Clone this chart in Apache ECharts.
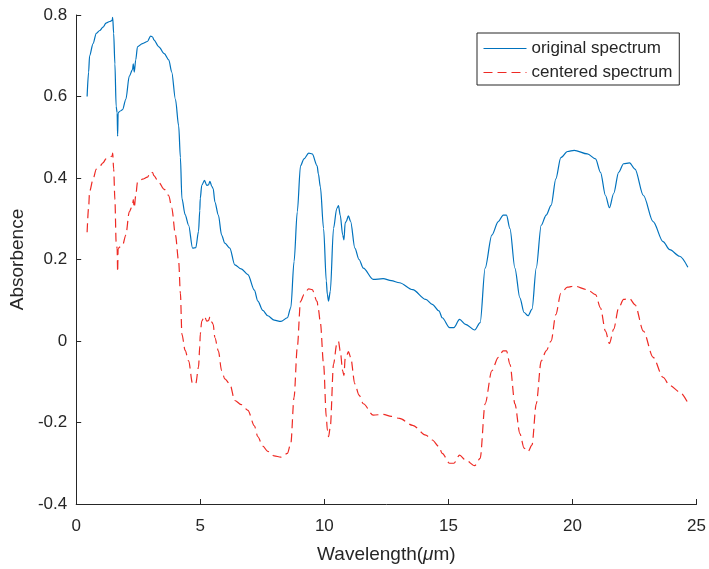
<!DOCTYPE html>
<html>
<head>
<meta charset="utf-8">
<title>spectrum</title>
<script src="https://cdn.jsdelivr.net/npm/echarts@6/dist/echarts.min.js"></script>
<style>
  html, body { margin: 0; padding: 0; background: #fff; }
  #chart { width: 709px; height: 569px; }
</style>
</head>
<body>
<div id="chart"></div>
<script>
// wavelength in um
var wavelength = [
  0.44, 0.50, 0.54, 0.68, 0.81, 0.95, 1.08, 1.20, 1.35, 1.45,
  1.47, 1.51, 1.56, 1.61, 1.65, 1.67, 1.69, 1.71, 1.80, 1.87,
  2.00, 2.14, 2.27, 2.30, 2.34, 2.40, 2.47, 2.67, 2.87, 3.00,
  3.08, 3.13, 3.33, 3.55, 3.73, 3.85, 4.00, 4.13, 4.20, 4.26,
  4.39, 4.53, 4.69, 4.82, 4.93, 4.98, 5.00, 5.06, 5.17, 5.26,
  5.33, 5.39, 5.46, 5.52, 5.59, 5.73, 5.86, 5.99, 6.19, 6.39,
  6.65, 6.92, 7.18, 7.32, 7.52, 7.72, 7.98, 8.25, 8.51, 8.65,
  8.78, 8.91, 9.04, 9.18, 9.37, 9.51, 9.71, 9.76, 9.84, 9.97,
  10.08, 10.12, 10.17, 10.24, 10.37, 10.50, 10.57, 10.64, 10.74, 10.79,
  10.84, 10.88, 10.97, 11.06, 11.23, 11.40, 11.57, 11.97, 12.37, 12.70,
  13.03, 13.56, 14.09, 14.35, 14.62, 14.75, 15.05, 15.22, 15.45, 15.69,
  16.06, 16.28, 16.48, 16.75, 17.01, 17.21, 17.34, 17.48, 17.68, 17.88,
  18.05, 18.21, 18.37, 18.54, 18.74, 18.94, 19.14, 19.33, 19.53, 19.80,
  20.07, 20.60, 20.93, 21.13, 21.33, 21.49, 21.66, 21.86, 22.06, 22.30,
  22.52, 22.86, 23.25, 23.65, 23.92, 24.32, 24.65
];

var original = [
  0.600, 0.660, 0.700, 0.730, 0.755, 0.762, 0.770, 0.780, 0.784, 0.787,
  0.794, 0.755, 0.680, 0.576, 0.560, 0.503, 0.560, 0.561, 0.565, 0.568,
  0.593, 0.650, 0.666, 0.680, 0.660, 0.690, 0.722, 0.730, 0.735, 0.748,
  0.746, 0.739, 0.722, 0.705, 0.690, 0.660, 0.593, 0.528, 0.450, 0.350,
  0.310, 0.284, 0.228, 0.229, 0.269, 0.320, 0.350, 0.382, 0.394, 0.382,
  0.383, 0.392, 0.380, 0.374, 0.341, 0.309, 0.260, 0.240, 0.228, 0.187,
  0.177, 0.163, 0.125, 0.098, 0.075, 0.062, 0.051, 0.048, 0.057, 0.082,
  0.195, 0.317, 0.430, 0.447, 0.461, 0.459, 0.430, 0.410, 0.378, 0.276,
  0.147, 0.115, 0.098, 0.122, 0.276, 0.325, 0.332, 0.309, 0.260, 0.248,
  0.290, 0.293, 0.307, 0.293, 0.228, 0.200, 0.179, 0.151, 0.153, 0.148,
  0.143, 0.126, 0.102, 0.090, 0.074, 0.057, 0.033, 0.033, 0.053, 0.041,
  0.027, 0.045, 0.179, 0.260, 0.293, 0.309, 0.309, 0.276, 0.179, 0.106,
  0.070, 0.062, 0.078, 0.179, 0.284, 0.309, 0.333, 0.398, 0.450, 0.465,
  0.468, 0.459, 0.447, 0.414, 0.357, 0.327, 0.362, 0.414, 0.435, 0.437,
  0.422, 0.357, 0.293, 0.244, 0.224, 0.208, 0.181
];

var centered = [
  0.267, 0.327, 0.367, 0.397, 0.422, 0.429, 0.437, 0.447, 0.451, 0.454,
  0.461, 0.422, 0.347, 0.243, 0.227, 0.170, 0.227, 0.228, 0.232, 0.235,
  0.260, 0.317, 0.333, 0.347, 0.327, 0.357, 0.389, 0.397, 0.402, 0.415,
  0.413, 0.406, 0.389, 0.372, 0.357, 0.327, 0.260, 0.195, 0.117, 0.017,
  -0.023, -0.049, -0.105, -0.104, -0.064, -0.013, 0.017, 0.049, 0.061, 0.049,
  0.050, 0.059, 0.047, 0.041, 0.008, -0.024, -0.073, -0.093, -0.105, -0.146,
  -0.156, -0.170, -0.208, -0.235, -0.258, -0.271, -0.282, -0.285, -0.276, -0.251,
  -0.138, -0.016, 0.097, 0.114, 0.128, 0.126, 0.097, 0.077, 0.045, -0.057,
  -0.186, -0.218, -0.235, -0.211, -0.057, -0.008, -0.001, -0.024, -0.073, -0.085,
  -0.043, -0.040, -0.026, -0.040, -0.105, -0.133, -0.154, -0.182, -0.180, -0.185,
  -0.190, -0.207, -0.231, -0.243, -0.259, -0.276, -0.300, -0.300, -0.280, -0.292,
  -0.306, -0.288, -0.154, -0.073, -0.040, -0.024, -0.024, -0.057, -0.154, -0.227,
  -0.263, -0.271, -0.255, -0.154, -0.049, -0.024, 0.000, 0.065, 0.117, 0.132,
  0.135, 0.126, 0.114, 0.081, 0.024, -0.006, 0.029, 0.081, 0.102, 0.104,
  0.089, 0.024, -0.040, -0.089, -0.109, -0.125, -0.152
];

var seriesNames = ['original spectrum', 'centered spectrum'];

function zip(xs, ys) {
  var out = [];
  for (var i = 0; i < xs.length; i++) {
    out.push([xs[i], ys[i]]);
  }
  return out;
}

var font = '"Liberation Sans", Arial, sans-serif';
var ink = '#262626';

var chart = echarts.init(document.getElementById('chart'));
var option = {
  animation: false,
  backgroundColor: '#fff',
  textStyle: { fontFamily: font, color: ink },
  grid: { left: 73, right: 8, top: 15, bottom: 61, containLabel: false },
  legend: {
    orient: 'vertical',
    left: 477,
    top: 33,
    padding: [7, 7, 4, 6],
    itemWidth: 43,
    itemHeight: 17,
    itemGap: 7,
    borderColor: ink,
    borderWidth: 1,
    borderRadius: 0,
    backgroundColor: '#fff',
    itemStyle: { opacity: 0 },
    lineStyle: { width: 1 },
    textStyle: { fontFamily: font, fontSize: 17, color: ink },
    data: seriesNames
  },
  xAxis: {
    type: 'value',
    min: 0,
    max: 25,
    interval: 5,
    name: 'Wavelength({i|μ}m)',
    nameLocation: 'middle',
    nameGap: 41,
    nameTextStyle: {
      fontFamily: font, fontSize: 19, color: ink,
      rich: { i: { fontFamily: font, fontSize: 19, fontStyle: 'italic', color: ink } }
    },
    axisLine: { onZero: false, lineStyle: { color: ink, width: 1 } },
    axisTick: { inside: true, length: 5, lineStyle: { color: ink } },
    axisLabel: { fontSize: 17, color: ink, margin: 14 },
    splitLine: { show: false }
  },
  yAxis: {
    type: 'value',
    min: -0.4,
    max: 0.8,
    interval: 0.2,
    name: 'Absorbence',
    nameLocation: 'middle',
    nameGap: 47,
    nameTextStyle: { fontFamily: font, fontSize: 19, color: ink },
    axisLine: { show: true, onZero: false, lineStyle: { color: ink, width: 1 } },
    axisTick: { show: true, inside: true, length: 5, lineStyle: { color: ink } },
    axisLabel: {
      fontSize: 17, color: ink, margin: 9,
      formatter: function (v) { return String(+v.toFixed(1)); }
    },
    splitLine: { show: false }
  },
  series: [
    {
      name: seriesNames[0],
      type: 'line',
      showSymbol: false,
      symbol: 'none',
      smooth: 0.3,
      smoothMonotone: 'x',
      lineStyle: { color: '#0072BD', width: 1.2 },
      itemStyle: { color: '#0072BD' },
      data: zip(wavelength, original)
    },
    {
      name: seriesNames[1],
      type: 'line',
      showSymbol: false,
      symbol: 'none',
      smooth: 0.3,
      smoothMonotone: 'x',
      lineStyle: { color: '#ee2a24', width: 1.2, type: [9, 5] },
      itemStyle: { color: '#ee2a24' },
      data: zip(wavelength, centered)
    }
  ]
};
chart.setOption(option);
</script>
</body>
</html>
